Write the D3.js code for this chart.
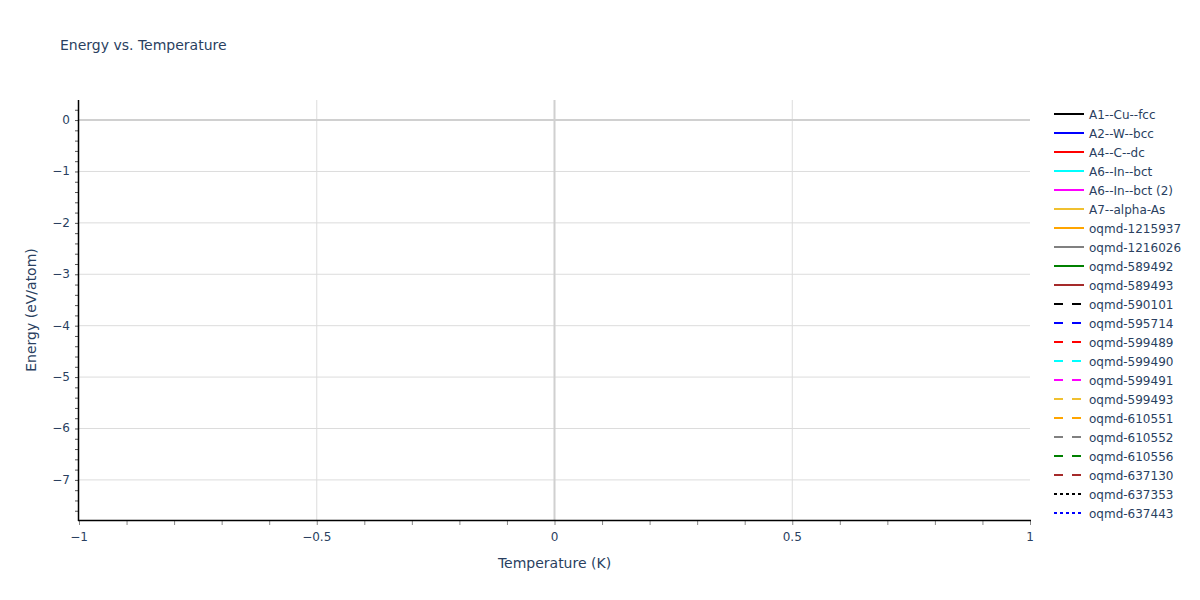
<!DOCTYPE html>
<html>
<head>
<meta charset="utf-8">
<script src="https://cdn.jsdelivr.net/npm/d3@7"></script>
<style>
  body { margin: 0; background: #fff; }
  text { font-family: "DejaVu Sans", Verdana, sans-serif; fill: #2a3f5f; }
</style>
</head>
<body>
<svg id="chart"></svg>
<script>
let W = 1200, H = 600;

// series shown in the legend (no visible points in the plot area)
let seriesNames = [
    "A1--Cu--fcc", "A2--W--bcc", "A4--C--dc", "A6--In--bct", "A6--In--bct (2)",
    "A7--alpha-As", "oqmd-1215937", "oqmd-1216026", "oqmd-589492", "oqmd-589493",
    "oqmd-590101", "oqmd-595714", "oqmd-599489", "oqmd-599490", "oqmd-599491",
    "oqmd-599493", "oqmd-610551", "oqmd-610552", "oqmd-610556", "oqmd-637130",
    "oqmd-637353", "oqmd-637443"];
let seriesColors = [
    "black", "blue", "red", "cyan", "magenta", "#f0c030", "orange", "gray", "green", "brown",
    "black", "blue", "red", "cyan", "magenta", "#f0c030", "orange", "gray", "green", "brown",
    "black", "blue"];
let seriesDash = [
    "solid", "solid", "solid", "solid", "solid", "solid", "solid", "solid", "solid", "solid",
    "dash", "dash", "dash", "dash", "dash", "dash", "dash", "dash", "dash", "dash",
    "dot", "dot"];
// temperature / energy values per series (empty: nothing is drawn)
let temperatures = [];
let energies = seriesNames.map(function () { return []; });

let xDomain = [-1, 1];
let yDomain = [-7.78, 0.39];
let xTicks = [-1, -0.5, 0, 0.5, 1];
let yTicks = [0, -1, -2, -3, -4, -5, -6, -7];

let margin = {left: 79, right: 170, top: 100, bottom: 80};
let pw = W - margin.left - margin.right;
let ph = H - margin.top - margin.bottom;

let svg = d3.select("#chart").attr("width", W).attr("height", H);

let x = d3.scaleLinear().domain(xDomain).range([margin.left, margin.left + pw]);
let y = d3.scaleLinear().domain(yDomain).range([margin.top + ph, margin.top]);

function fmt(v) {
    return v < 0 ? "\u2212" + Math.abs(v) : String(v);
}

// grid
let grid = svg.append("g");
grid.selectAll(".gx").data(xTicks.filter(function (d) { return d !== 0 && d !== -1 && d !== 1; }))
    .enter().append("line")
    .attr("x1", function (d) { return x(d); }).attr("x2", function (d) { return x(d); })
    .attr("y1", margin.top).attr("y2", margin.top + ph)
    .attr("stroke", "#dcdcdc").attr("stroke-width", 1);
grid.selectAll(".gy").data(yTicks.filter(function (d) { return d !== 0; }))
    .enter().append("line")
    .attr("x1", margin.left).attr("x2", margin.left + pw)
    .attr("y1", function (d) { return y(d); }).attr("y2", function (d) { return y(d); })
    .attr("stroke", "#dcdcdc").attr("stroke-width", 1);
// zero lines
grid.append("line")
    .attr("x1", x(0)).attr("x2", x(0)).attr("y1", margin.top).attr("y2", margin.top + ph)
    .attr("stroke", "#d0d0d0").attr("stroke-width", 2);
grid.append("line")
    .attr("x1", margin.left).attr("x2", margin.left + pw).attr("y1", y(0)).attr("y2", y(0))
    .attr("stroke", "#d0d0d0").attr("stroke-width", 2);

// series lines
let line = d3.line()
    .x(function (d, i) { return x(temperatures[i]); })
    .y(function (d) { return y(d); });
let dashMap = {solid: null, dash: "9,9", dot: "3,3"};
svg.append("g").selectAll("path").data(energies).enter().append("path")
    .attr("d", function (d) { return d.length ? line(d) : null; })
    .attr("fill", "none")
    .attr("stroke", function (d, i) { return seriesColors[i]; })
    .attr("stroke-width", 2)
    .attr("stroke-dasharray", function (d, i) { return dashMap[seriesDash[i]]; });

// x axis
let xAxis = svg.append("g").attr("transform", "translate(0," + (margin.top + ph) + ")");
xAxis.call(d3.axisBottom(x).ticks(20).tickSize(5).tickFormat(""))
    .call(function (g) {
        g.select(".domain").remove();
        g.selectAll(".tick line").attr("stroke", "#888");
    });
xAxis.append("line").attr("x1", margin.left - 1).attr("x2", margin.left + pw + 1)
    .attr("y1", 0.5).attr("y2", 0.5).attr("stroke", "black").attr("stroke-width", 1.5);
xAxis.selectAll(".xl").data(xTicks).enter().append("text")
    .attr("x", function (d) { return x(d); }).attr("y", 21)
    .attr("text-anchor", "middle").attr("font-size", 12)
    .text(fmt);

// y axis
let yAxis = svg.append("g").attr("transform", "translate(" + margin.left + ",0)");
yAxis.call(d3.axisLeft(y).tickValues(d3.range(-38, 2).map(function (i) { return i / 5; }))
        .tickSize(4).tickFormat(""))
    .call(function (g) {
        g.select(".domain").remove();
        g.selectAll(".tick line").attr("stroke", "#555");
    });
yAxis.append("line").attr("x1", -0.5).attr("x2", -0.5)
    .attr("y1", margin.top).attr("y2", margin.top + ph + 1)
    .attr("stroke", "black").attr("stroke-width", 1.5);
yAxis.selectAll(".yl").data(yTicks).enter().append("text")
    .attr("x", -9).attr("y", function (d) { return y(d) + 4; })
    .attr("text-anchor", "end").attr("font-size", 12)
    .text(fmt);

// titles
svg.append("text").attr("x", 60).attr("y", 50).attr("font-size", 14)
    .text("Energy vs. Temperature");
svg.append("text").attr("x", margin.left + pw / 2).attr("y", 568)
    .attr("text-anchor", "middle").attr("font-size", 14)
    .text("Temperature (K)");
svg.append("text")
    .attr("transform", "translate(36," + (margin.top + ph / 2) + ") rotate(-90)")
    .attr("text-anchor", "middle").attr("font-size", 14)
    .text("Energy (eV/atom)");

// legend
let legend = svg.append("g").attr("transform", "translate(1054,114)");
let items = legend.selectAll("g").data(seriesNames).enter().append("g")
    .attr("transform", function (d, i) { return "translate(0," + (i * 19) + ")"; });
items.append("line")
    .attr("x1", 0).attr("x2", 30).attr("y1", 0).attr("y2", 0)
    .attr("stroke", function (d, i) { return seriesColors[i]; })
    .attr("stroke-width", 2)
    .attr("stroke-dasharray", function (d, i) { return dashMap[seriesDash[i]]; });
items.append("text").attr("x", 35).attr("y", 4.5).attr("font-size", 12)
    .text(function (d) { return d; });
</script>
</body>
</html>
